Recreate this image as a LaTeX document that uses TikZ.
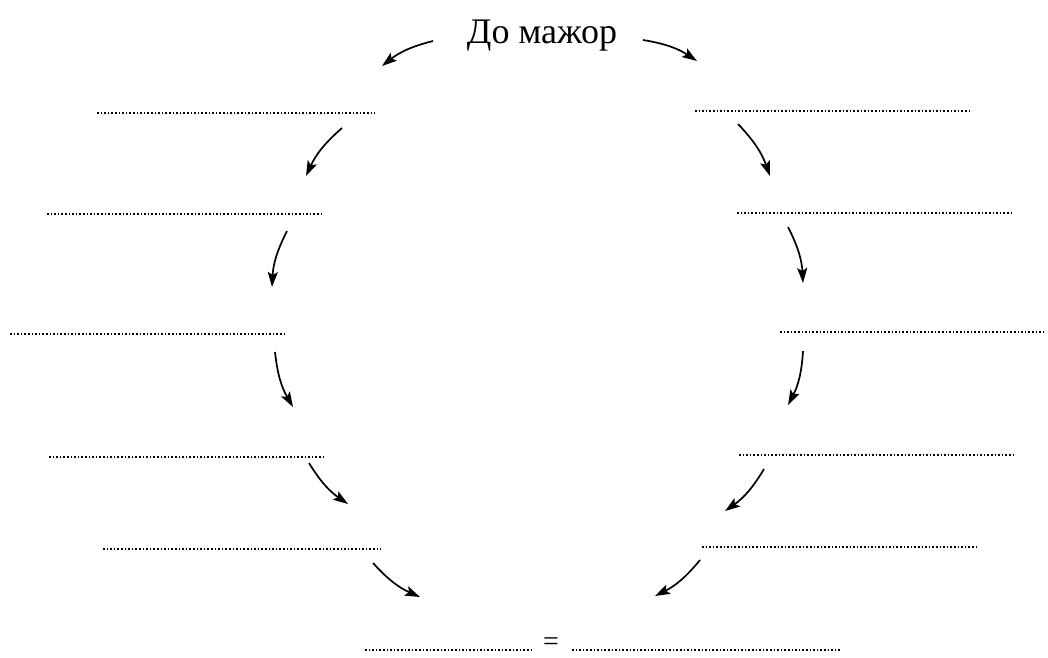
\documentclass[tikz,border=0pt]{standalone}
\usepackage{fontspec}
\setmainfont{Liberation Serif}
\usetikzlibrary{arrows.meta}
\tikzset{
  answer/.style={line width=2.3pt, dash pattern=on 1.6pt off 2pt},
  arr/.style={line width=1.7pt, -{Stealth[length=15pt,width=10pt,inset=3pt]}},
  title/.style={font=\fontsize{36}{40}\selectfont, inner sep=0pt},
  eqsign/.style={font=\fontsize{28}{32}\selectfont, inner sep=0pt}
}
\begin{document}
\begin{tikzpicture}[x=1pt,y=-1pt]
\useasboundingbox (0,0) rectangle (1048,657);
\node[title, anchor=base] (title) at (542,43) {До мажор};
% answer lines: left
\coordinate (l1a) at (97,113);  \coordinate (l1b) at (375,113);
\coordinate (l2a) at (47,214);  \coordinate (l2b) at (324,214);
\coordinate (l3a) at (10,334);  \coordinate (l3b) at (287,334);
\coordinate (l4a) at (49,457);  \coordinate (l4b) at (326,457);
\coordinate (l5a) at (103,549); \coordinate (l5b) at (381,549);
% answer lines: right
\coordinate (r1a) at (695,111); \coordinate (r1b) at (971,111);
\coordinate (r2a) at (737,213); \coordinate (r2b) at (1012,213);
\coordinate (r3a) at (780,332); \coordinate (r3b) at (1046,332);
\coordinate (r4a) at (739,455); \coordinate (r4b) at (1015,455);
\coordinate (r5a) at (702,547); \coordinate (r5b) at (976,547);
% bottom
\coordinate (ba) at (365,650); \coordinate (bb) at (531,650);
\coordinate (ca) at (572,650); \coordinate (cb) at (840,650);
\node[eqsign] (eq) at (551,644) {=};
\foreach \p in {l1,l2,l3,l4,l5,r1,r2,r3,r4,r5}
  \draw[answer] (\p a) -- (\p b);
\draw[answer] (ba) -- (bb);
\draw[answer] (ca) -- (cb);
% arrow endpoints
\coordinate (t0s) at (433,41);  \coordinate (t0e) at (382,66);
\coordinate (u0s) at (643,40);  \coordinate (u0e) at (697,61);
\coordinate (a1s) at (342,128); \coordinate (a1e) at (306,176);
\coordinate (a2s) at (287,231); \coordinate (a2e) at (272,287);
\coordinate (a3s) at (275,352); \coordinate (a3e) at (293,407);
\coordinate (a4s) at (309,463); \coordinate (a4e) at (348,504);
\coordinate (a5s) at (373,563); \coordinate (a5e) at (420,597);
\coordinate (b1s) at (738,124); \coordinate (b1e) at (770,176);
\coordinate (b2s) at (788,227); \coordinate (b2e) at (803,283);
\coordinate (b3s) at (803,351); \coordinate (b3e) at (788,405);
\coordinate (b4s) at (764,469); \coordinate (b4e) at (725,511);
\coordinate (b5s) at (700,560); \coordinate (b5e) at (655,596);
\draw[arr] (t0s) to[bend right=12] (t0e);
\draw[arr] (u0s) to[bend left=12] (u0e);
\foreach \i in {1,...,5}{
  \draw[arr] (a\i s) to[bend right=12] (a\i e);
  \draw[arr] (b\i s) to[bend left=12] (b\i e);
}
\end{tikzpicture}
\end{document}
